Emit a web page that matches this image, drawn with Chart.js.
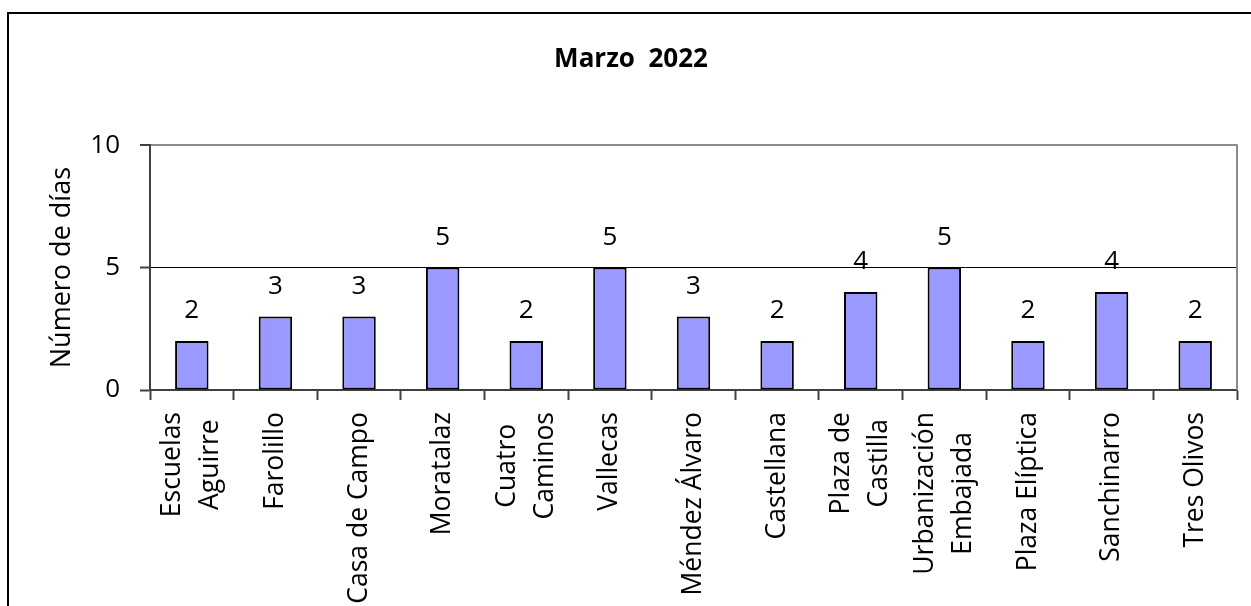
<!DOCTYPE html>
<html>
<head>
<meta charset="utf-8">
<script src="https://cdn.jsdelivr.net/npm/chart.js@4"></script>
<style>
  body { margin: 0; background: #fff; }
  #wrap { position: relative; width: 1251px; height: 606px; overflow: hidden; }
  #frame { position: absolute; left: 7px; top: 12px; width: 1300px; height: 700px; border: 2px solid #000; pointer-events: none; }
</style>
</head>
<body>
<div id="wrap">
  <canvas id="myChart" width="1251" height="606"></canvas>
  <div id="frame"></div>
</div>
<script>
// datos
const estaciones = [["Escuelas", "Aguirre"], ["Farolillo"], ["Casa de Campo"], ["Moratalaz"], ["Cuatro", "Caminos"], ["Vallecas"], ["Méndez Álvaro"], ["Castellana"], ["Plaza de", "Castilla"], ["Urbanización", "Embajada"], ["Plaza Elíptica"], ["Sanchinarro"], ["Tres Olivos"]]
const dias = [2, 3, 3, 5, 2, 5, 3, 2, 4, 5, 2, 4, 2]
const yTicks = [0, 5, 10]

const fuente = "'Open Sans', 'Noto Sans', sans-serif"

// etiquetas encima de las barras + etiquetas del eje x + borde derecho
const extras = {
    id: "extras",
    afterDatasetsDraw(chart) {
        const ctx = chart.ctx
        const meta = chart.getDatasetMeta(0)
        ctx.save()
        ctx.fillStyle = "#000"
        ctx.font = "26px " + fuente
        ctx.textAlign = "center"
        ctx.textBaseline = "middle"
        meta.data.forEach((bar, i) => {
            ctx.fillText(String(dias[i]), bar.x, bar.y - 30)
        })
        ctx.restore()
    },
    afterDraw(chart) {
        const ctx = chart.ctx
        const area = chart.chartArea
        const x = chart.scales.x
        ctx.save()
        // borde derecho del area
        ctx.strokeStyle = "#8c8c8c"
        ctx.lineWidth = 2
        ctx.beginPath()
        ctx.moveTo(area.right, area.top - 1)
        ctx.lineTo(area.right, area.bottom)
        ctx.stroke()
        // etiquetas del eje x, giradas
        ctx.fillStyle = "#000"
        ctx.font = "26.5px " + fuente
        ctx.textAlign = "center"
        ctx.textBaseline = "middle"
        const top = area.bottom + 22
        const salto = 38
        estaciones.forEach((lineas, i) => {
            const px = x.getPixelForTick(i)
            const w = Math.max(...lineas.map(l => ctx.measureText(l).width))
            lineas.forEach((l, j) => {
                ctx.save()
                ctx.translate(px + (j - (lineas.length - 1) / 2) * salto, top + w / 2)
                ctx.rotate(-Math.PI / 2)
                ctx.fillText(l, 0, 0)
                ctx.restore()
            })
        })
        ctx.restore()
    }
}

var ctx = document.getElementById("myChart").getContext("2d")
var chart = new Chart(ctx, {
    type: "bar",
    data: {
        labels: estaciones.map(l => l.join(" ")),
        datasets: [{
            label: "Número de días",
            data: dias,
            backgroundColor: "#9999ff",
            borderColor: "#000",
            borderWidth: 2,
            borderSkipped: false,
            barPercentage: 0.4,
            categoryPercentage: 1
        }]
    },
    options: {
        responsive: false,
        animation: false,
        layout: { padding: { left: 25, right: 14, top: 0, bottom: 0 } },
        plugins: {
            legend: { display: false },
            tooltip: { enabled: false },
            title: {
                display: true,
                text: "Marzo  2022",
                color: "#000",
                font: { family: fuente, size: 26, weight: "bold", lineHeight: 1.2 },
                padding: { top: 44, bottom: 70 }
            }
        },
        scales: {
            x: {
                afterFit: s => { s.height = 216 },
                grid: {
                    offset: true,
                    drawOnChartArea: false,
                    drawTicks: true,
                    tickLength: 10,
                    tickColor: "#404040",
                    tickWidth: 2
                },
                border: { display: true, color: "#404040", width: 2 },
                ticks: { display: false }
            },
            y: {
                min: 0,
                max: 10,
                afterFit: s => { s.width = 125 },
                afterBuildTicks: s => { s.ticks = yTicks.map(v => ({ value: v })) },
                grid: {
                    color: c => c.tick.value === 10 ? "#8c8c8c" : (c.tick.value === 5 ? "#000" : "rgba(0,0,0,0)"),
                    lineWidth: c => c.tick.value === 10 ? 2 : 1,
                    tickLength: 10,
                    tickColor: "#404040",
                    tickWidth: 2
                },
                border: { display: true, color: "#404040", width: 2 },
                ticks: {
                    color: "#000",
                    padding: 20,
                    font: { family: fuente, size: 26 }
                },
                title: {
                    display: true,
                    text: "Número de días",
                    color: "#000",
                    font: { family: fuente, size: 27, lineHeight: 1.2 },
                    padding: { top: 21, bottom: 0 }
                }
            }
        }
    },
    plugins: [extras]
})
</script>
</body>
</html>
